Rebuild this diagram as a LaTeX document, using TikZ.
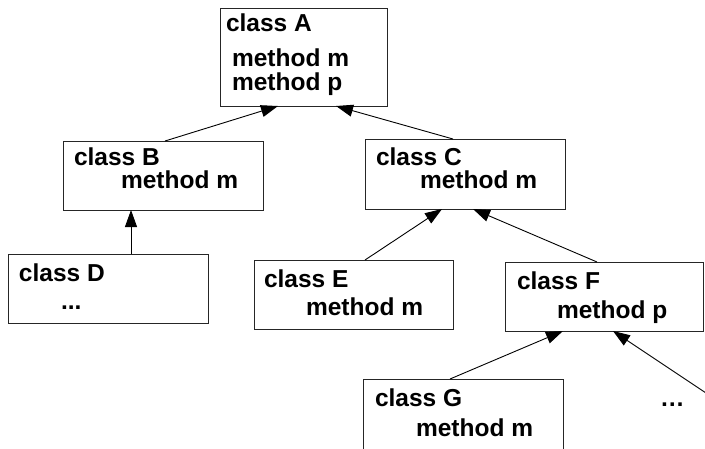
\documentclass[tikz,border=0pt]{standalone}
\usepackage{fontspec}
\setmainfont{Liberation Sans}
\usetikzlibrary{arrows.meta}

\tikzset{
  classbox/.style={draw=black!85, line width=0.9pt, rectangle, inner sep=0pt, outer sep=0pt, anchor=north west},
  txt/.style={inner sep=0pt, outer sep=0pt, anchor=base west, font=\fontsize{24.5}{27}\selectfont\bfseries},
  inherit/.style={draw=black, line width=0.9pt, -{Triangle[length=17pt, width=12pt]}}
}

\begin{document}
\begin{tikzpicture}[x=1pt, y=-1pt]
  \useasboundingbox (0,0) rectangle (705,448);
  \clip (0,0) rectangle (705,448);

  % class boxes
  \node[classbox, minimum width=167pt, minimum height=98pt] (A) at (220,8) {};
  \node[classbox, minimum width=200pt, minimum height=69pt] (B) at (63,141) {};
  \node[classbox, minimum width=200pt, minimum height=70pt] (C) at (365,139) {};
  \node[classbox, minimum width=200pt, minimum height=69pt] (D) at (8,254) {};
  \node[classbox, minimum width=199pt, minimum height=69pt] (E) at (254,260) {};
  \node[classbox, minimum width=198pt, minimum height=69pt] (F) at (505,262) {};
  \node[classbox, minimum width=200pt, minimum height=80pt] (G) at (363,379) {};

  % box contents
  \node[txt] (a1) at (226,31) {class A};
  \node[txt] (a2) at (232,66) {method m};
  \node[txt] (a3) at (232,90) {method p};

  \node[txt] (b1) at (74,165) {class B};
  \node[txt] (b2) at (121,188) {method m};

  \node[txt] (c1) at (376,165) {class C};
  \node[txt] (c2) at (420,188) {method m};

  \node[txt] (d1) at (19,281) {class D};
  \node[txt] (d2) at (61,309) {...};

  \node[txt] (e1) at (264,287) {class E};
  \node[txt] (e2) at (306,315) {method m};

  \node[txt] (f1) at (517,289) {class F};
  \node[txt] (f2) at (557,318) {method p};

  \node[txt] (g1) at (375,406) {class G};
  \node[txt] (g2) at (416,436) {method m};

  \node[txt] (more) at (660,406) {…};
  \coordinate (moreend) at (706,393);

  % inheritance arrows
  \draw[inherit] ([xshift=102pt]B.north west) -- ([xshift=58pt]A.south west);
  \draw[inherit] ([xshift=88pt]C.north west) -- ([xshift=116pt]A.south west);
  \draw[inherit] ([xshift=123pt]D.north west) -- ([xshift=68pt]B.south west);
  \draw[inherit] ([xshift=111pt]E.north west) -- ([xshift=77pt]C.south west);
  \draw[inherit] ([xshift=92pt]F.north west) -- ([xshift=108pt]C.south west);
  \draw[inherit] ([xshift=87pt]G.north west) -- ([xshift=58pt]F.south west);
  \draw[inherit] (moreend) -- ([xshift=108pt]F.south west);
\end{tikzpicture}
\end{document}
